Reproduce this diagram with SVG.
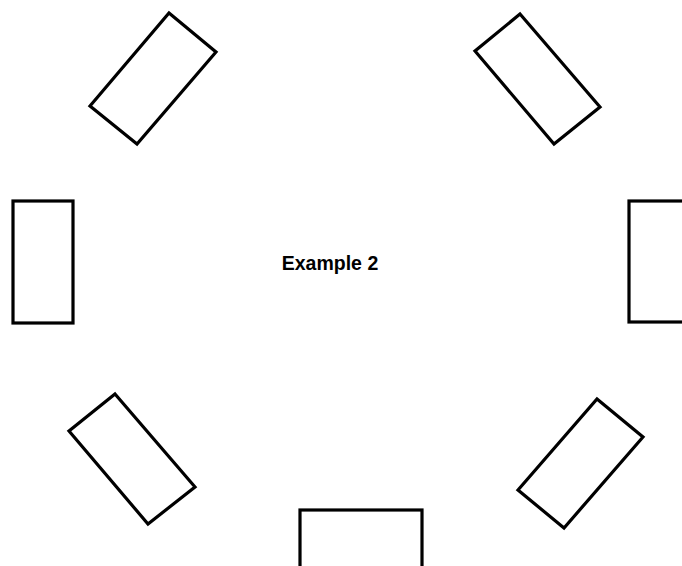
<svg xmlns="http://www.w3.org/2000/svg" width="682" height="566" viewBox="0 0 682 566">
<style>
.box{fill:none;stroke:#000;stroke-width:3.2;stroke-linejoin:miter}
.lbl{font-family:"Liberation Sans",Arial,sans-serif;font-weight:bold;font-size:19.5px;fill:#000}
</style>
<rect width="682" height="566" fill="#fff"/>
<g id="box-top-left"><polygon class="box" points="169,13 216,52 137,144 90,106"/></g>
<g id="box-top-right"><polygon class="box" points="520,14 600,107 554,144 475,51"/></g>
<g id="box-left"><rect class="box" x="13" y="201" width="60" height="122"/></g>
<g id="box-right"><rect class="box" x="629" y="201" width="60" height="121"/></g>
<g id="box-bottom-left"><polygon class="box" points="115,394 195,487 148,524 69,431"/></g>
<g id="box-bottom-right"><polygon class="box" points="597,399 643,437 564,528 518,490"/></g>
<g id="box-bottom"><rect class="box" x="300" y="510" width="122" height="70"/></g>
<g id="label"><text class="lbl" x="330" y="270" text-anchor="middle">Example 2</text></g>
<g id="connectors"/>
</svg>
